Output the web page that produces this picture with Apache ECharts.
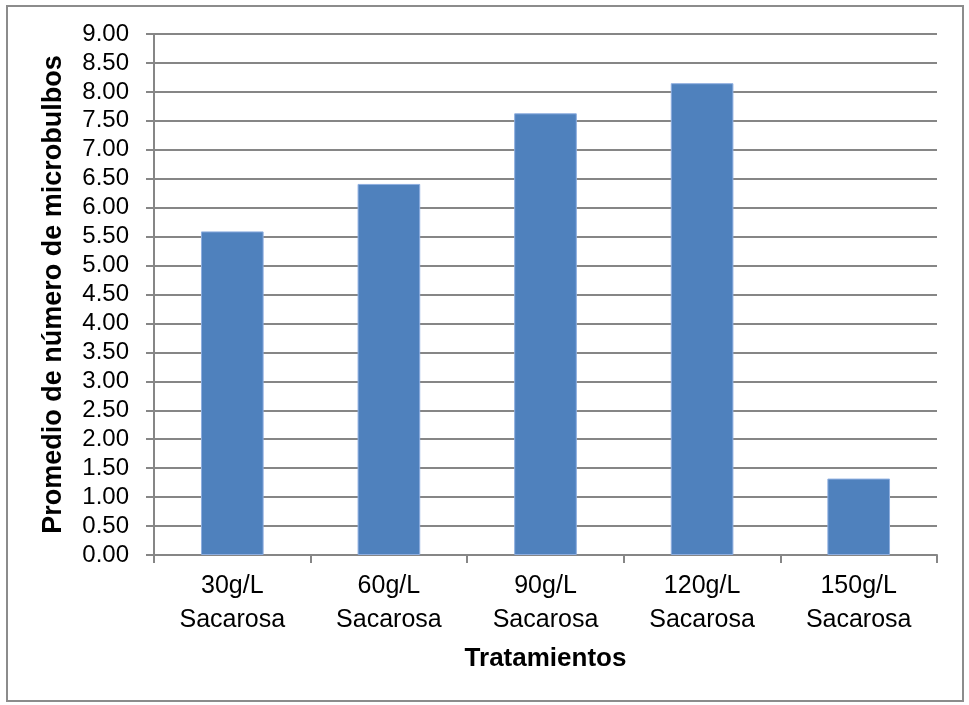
<!DOCTYPE html>
<html>
<head>
<meta charset="utf-8">
<script src="https://cdn.jsdelivr.net/npm/echarts@6/dist/echarts.min.js"></script>
<style>
  html, body { margin: 0; padding: 0; background: #ffffff; }
  #frame { position: absolute; left: 6px; top: 5px; width: 958px; height: 697px; border: 2px solid #8c8c8c; box-sizing: border-box; }
  #chart { width: 969px; height: 705px; position: absolute; left: 0; top: 0; }
</style>
</head>
<body>
<div id="frame"></div>
<div id="chart"></div>
<script>
// Mean number of microbulbs per sucrose treatment
const categories = ['30g/L\nSacarosa', '60g/L\nSacarosa', '90g/L\nSacarosa', '120g/L\nSacarosa', '150g/L\nSacarosa'];
const meanMicrobulbs = [5.59, 6.41, 7.63, 8.15, 1.32];
const yTicks = { min: 0, max: 9, interval: 0.5 };

const FONT = '"Liberation Sans", Arial, sans-serif';
const chart = echarts.init(document.getElementById('chart'), null, { renderer: 'canvas' });

chart.setOption({
  animation: false,
  backgroundColor: 'transparent',
  grid: { left: 154, right: 32, top: 34, bottom: 150, containLabel: false },
  xAxis: {
    type: 'category',
    data: categories,
    name: 'Tratamientos',
    nameLocation: 'middle',
    nameGap: 91,
    nameTextStyle: { fontFamily: FONT, fontSize: 26, fontWeight: 'bold', color: '#000' },
    axisLine: { lineStyle: { color: '#868686', width: 2 } },
    axisTick: { show: true, length: 8, alignWithLabel: false, lineStyle: { color: '#868686', width: 2 } },
    axisLabel: { fontFamily: FONT, fontSize: 25, color: '#000', lineHeight: 34, margin: 14 }
  },
  yAxis: {
    type: 'value',
    min: yTicks.min,
    max: yTicks.max,
    interval: yTicks.interval,
    name: 'Promedio de número de microbulbos',
    nameLocation: 'middle',
    nameGap: 87,
    nameTextStyle: { fontFamily: FONT, fontSize: 27, fontWeight: 'bold', color: '#000' },
    axisLine: { show: true, lineStyle: { color: '#868686', width: 2 } },
    axisTick: { show: true, length: 8, inside: false, lineStyle: { color: '#868686', width: 2 } },
    splitLine: { show: true, lineStyle: { color: '#868686', width: 2 } },
    axisLabel: {
      fontFamily: FONT, fontSize: 24, color: '#000', margin: 25,
      formatter: v => v.toFixed(2)
    }
  },
  series: [{
    type: 'bar',
    data: meanMicrobulbs,
    barWidth: '40%',
    itemStyle: { color: '#4F81BD', borderColor: '#8eaee0', borderWidth: 1 }
  }]
});
</script>
</body>
</html>
